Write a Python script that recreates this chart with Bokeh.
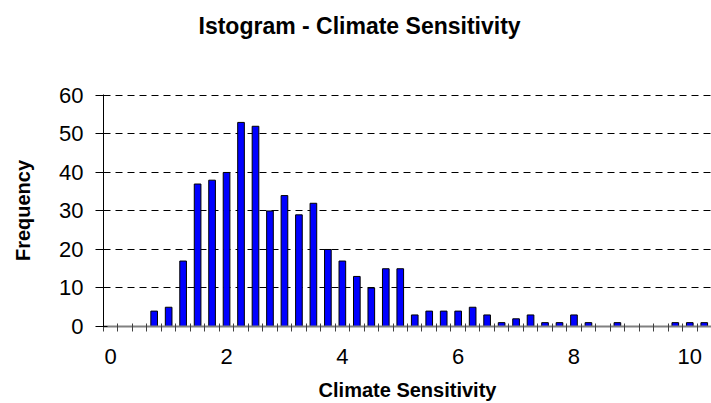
from bokeh.plotting import figure
from bokeh.models import Range1d, FixedTicker, Title
from bokeh.embed import file_html
from bokeh.resources import INLINE

# Histogram data: bin values (Climate Sensitivity) and frequencies
bins = [0.0, 0.25, 0.5, 0.75, 1.0, 1.25, 1.5, 1.75, 2.0, 2.25, 2.5, 2.75,
        3.0, 3.25, 3.5, 3.75, 4.0, 4.25, 4.5, 4.75, 5.0, 5.25, 5.5, 5.75,
        6.0, 6.25, 6.5, 6.75, 7.0, 7.25, 7.5, 7.75, 8.0, 8.25, 8.5, 8.75,
        9.0, 9.25, 9.5, 9.75, 10.0, 10.25]
frequency = [0, 0, 0, 4, 5, 17, 37, 38, 40, 53, 52, 30,
             34, 29, 32, 20, 17, 13, 10, 15, 15, 3, 4, 4,
             4, 5, 3, 1, 2, 3, 1, 1, 3, 1, 0, 1,
             0, 0, 0, 1, 1, 1]
x_tick_labels = ["0", "2", "4", "6", "8", "10"]
y_ticks = [0, 10, 20, 30, 40, 50, 60]

FONT = "Liberation Sans"

idx = [i for i, f in enumerate(frequency) if f > 0]
bar_x = idx
bar_top = [frequency[i] for i in idx]

p = figure(width=711, height=403,
           x_range=Range1d(-0.5, len(bins) - 0.5), y_range=Range1d(0, 60.25),
           min_border_left=103, min_border_right=0,
           min_border_top=94, min_border_bottom=77,
           title="Istogram - Climate Sensitivity",
           output_backend="svg", toolbar_location=None)
p.outline_line_color = None
p.background_fill_color = "white"
p.border_fill_color = "white"

p.title.text_font = FONT
p.title.text_font_style = "bold"
p.title.text_font_size = "23px"
p.title.text_color = "black"
p.title.align = "left"
p.title.offset = 95
p.title.standoff = 18

# empty spacer title between the chart title and the plot area
spacer = Title(text=" ", text_font_size="10px", standoff=34)
p.add_layout(spacer, "above")

p.vbar(x=bar_x, top=bar_top, width=0.46, bottom=0,
       fill_color="#0000FF", line_color="black", line_width=1)

# x axis: labels at category centres, tick marks between categories
label_pos = [bins.index(float(t)) for t in x_tick_labels]
xa = p.xaxis[0]
xa.ticker = FixedTicker(ticks=label_pos,
                        minor_ticks=[k - 0.5 for k in range(len(bins) + 1)])
xa.major_label_overrides = {pos: t for pos, t in zip(label_pos, x_tick_labels)}
xa.major_tick_in = 0
xa.major_tick_out = 0
xa.minor_tick_in = 3
xa.minor_tick_out = 5
xa.minor_tick_line_color = "#404040"
xa.axis_line_color = "#808080"
xa.axis_line_width = 2
xa.major_label_standoff = 17
xa.major_label_text_font = FONT
xa.major_label_text_font_size = "22px"
xa.major_label_text_color = "black"
xa.axis_label = "Climate Sensitivity"
xa.axis_label_text_font = FONT
xa.axis_label_text_font_style = "bold"
xa.axis_label_text_font_size = "20px"
xa.axis_label_text_color = "black"
xa.axis_label_standoff = 12

ya = p.yaxis[0]
ya.ticker = FixedTicker(ticks=y_ticks, minor_ticks=[])
ya.major_tick_in = 4
ya.major_tick_out = 8
ya.major_tick_line_color = "black"
ya.axis_line_color = "black"
ya.major_label_standoff = 12
ya.major_label_text_font = FONT
ya.major_label_text_font_size = "22px"
ya.major_label_text_color = "black"
ya.axis_label = "Frequency"
ya.axis_label_text_font = FONT
ya.axis_label_text_font_style = "bold"
ya.axis_label_text_font_size = "20px"
ya.axis_label_text_color = "black"
ya.axis_label_standoff = 22

p.xgrid.grid_line_color = None
p.ygrid.grid_line_color = "black"
p.ygrid.grid_line_dash = "7 5"
p.ygrid.grid_line_width = 1

open("out.html", "w").write(file_html(p, INLINE))
